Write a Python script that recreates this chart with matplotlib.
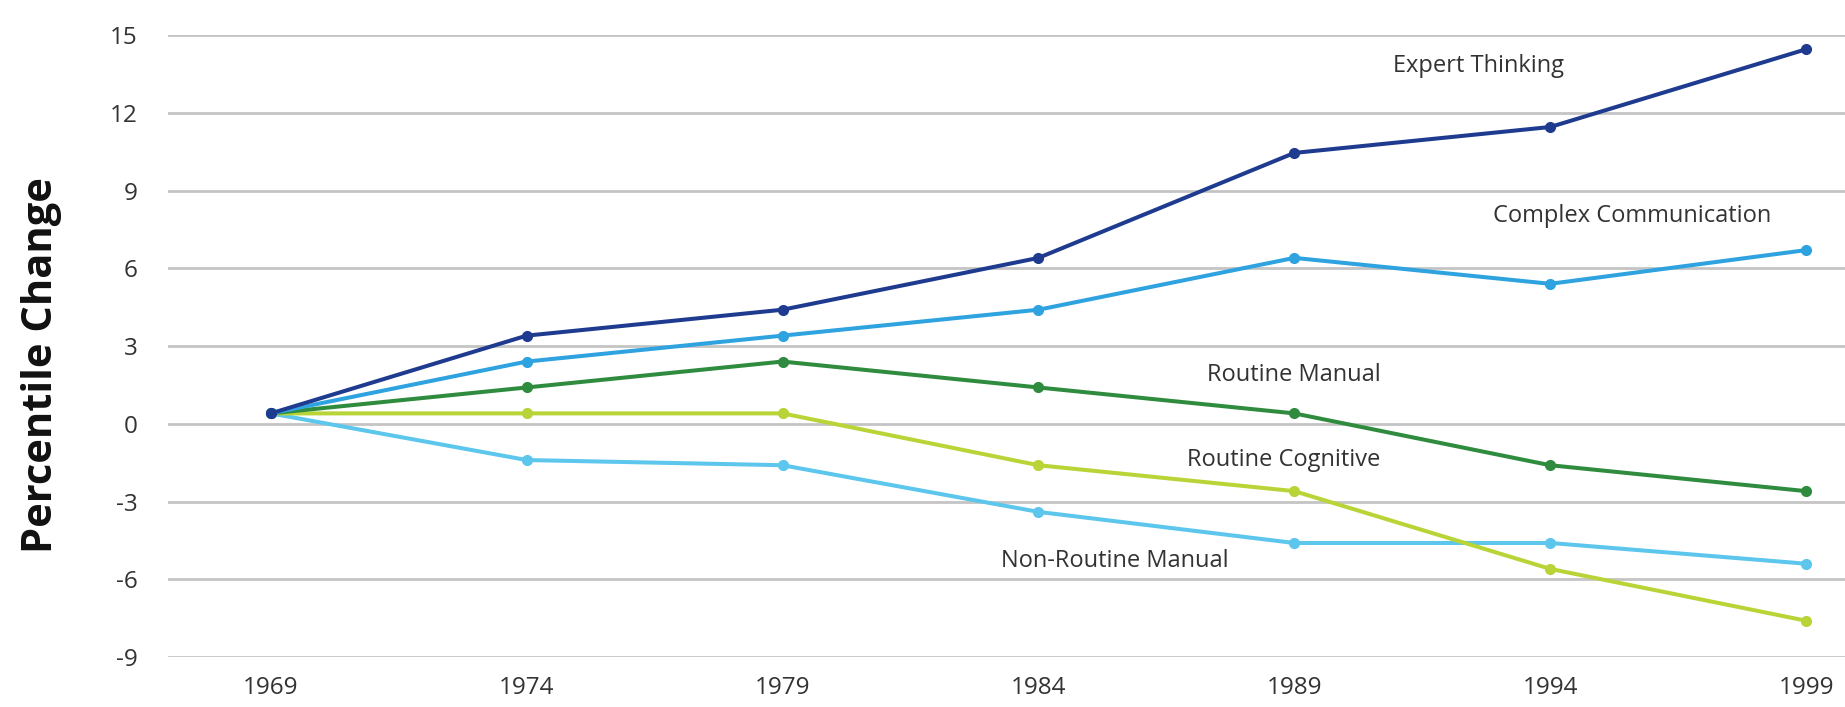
import matplotlib
matplotlib.use("Agg")
import matplotlib.pyplot as plt

plt.rcParams['font.family'] = ['Open Sans', 'DejaVu Sans']
plt.rcParams['axes.unicode_minus'] = False

years = [1969, 1974, 1979, 1984, 1989, 1994, 1999]
expert_thinking = [0.4, 3.4, 4.4, 6.4, 10.45, 11.45, 14.45]
complex_communication = [0.4, 2.4, 3.4, 4.4, 6.4, 5.4, 6.7]
routine_manual = [0.4, 1.4, 2.4, 1.4, 0.4, -1.6, -2.6]
routine_cognitive = [0.4, 0.4, 0.4, -1.6, -2.6, -5.6, -7.6]
non_routine_manual = [0.4, -1.4, -1.6, -3.4, -4.6, -4.6, -5.4]
y_ticks = [-9, -6, -3, 0, 3, 6, 9, 12, 15]

# drawn bottom to top, expert last so its marker sits on top at 1969
series = [
    ("Non-Routine Manual", non_routine_manual, "#5cc6ec", (1985.5, -5.3)),
    ("Routine Cognitive", routine_cognitive, "#b8d436", (1988.8, -1.4)),
    ("Routine Manual", routine_manual, "#2f8c3f", (1989.0, 1.9)),
    ("Complex Communication", complex_communication, "#2fa2e0", (1995.6, 8.0)),
    ("Expert Thinking", expert_thinking, "#1e3b8f", (1992.6, 13.8)),
]

fig = plt.figure(figsize=(18.45, 7.07), dpi=100)
ax = fig.add_axes([0.091, 0.0707, 0.909, 0.8798])

for name, vals, col, pos in series:
    ax.plot(years, vals, color=col, lw=2.9, marker="o", ms=7, zorder=3)
    ax.text(pos[0], pos[1], name, ha="center", va="center", fontsize=17,
            color="#333333")

ax.set_xlim(1966.99, 1999.76)
ax.set_ylim(-9, 15)
ax.set_yticks(y_ticks)
ax.set_xticks(years)
ax.grid(axis="y", color="#c4c4c4", lw=2)
ax.set_axisbelow(True)
for s in ax.spines.values():
    s.set_visible(False)
ax.tick_params(length=0, labelsize=17.5, colors="#333333", pad=22)
ax.tick_params(axis="x", pad=14)
ax.set_ylabel("Percentile Change", fontsize=30, fontweight="bold",
              color="#111111")
ax.yaxis.set_label_coords(-0.063, 0.47)

fig.savefig("out.png", dpi=100)
